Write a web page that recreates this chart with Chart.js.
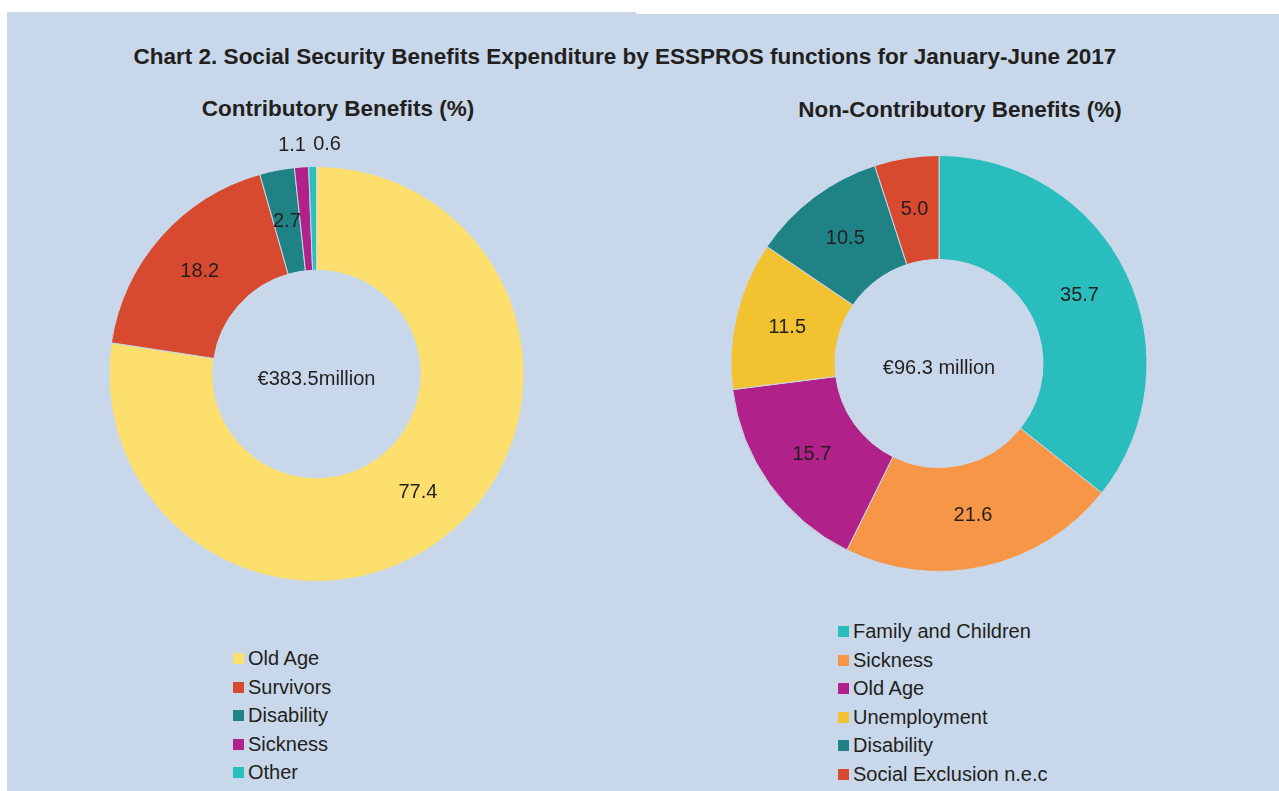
<!DOCTYPE html>
<html>
<head>
<meta charset="utf-8">
<script src="https://cdn.jsdelivr.net/npm/chart.js@4.4.0/dist/chart.umd.min.js"></script>
<style>
  html, body { margin: 0; padding: 0; background: #fff; width: 1279px; height: 791px; overflow: hidden; }
  body { font-family: "Liberation Sans", Arial, sans-serif; color: #231f20; position: relative; }
  #panel { position: absolute; left: 7px; top: 12px; right: 0; bottom: 0; background: #c8d8ea; }
  #notch { position: absolute; left: 636px; top: 12px; right: 0; height: 2px; background: #fff; }
  .title { position: absolute; font-weight: bold; white-space: nowrap; transform: translate(-50%, -50%); }
  canvas { position: absolute; }
  .legend { position: absolute; font-size: 20px; }
  .legend div { height: 28.5px; line-height: 28.5px; white-space: nowrap; }
  .legend span { display: inline-block; width: 11px; height: 11px; margin-right: 4px; vertical-align: 1px; }
</style>
</head>
<body>
<div id="panel"></div>
<div id="notch"></div>
<div class="title" style="left:625px; top:57px; font-size:22.5px;">Chart 2. Social Security Benefits Expenditure by ESSPROS functions for January-June 2017</div>
<div class="title" style="left:338px; top:109px; font-size:22.5px;">Contributory Benefits (%)</div>
<div class="title" style="left:960px; top:110px; font-size:22.5px;">Non-Contributory Benefits (%)</div>

<canvas id="contrib" style="left:60px; top:130px; width:512px; height:500px;"></canvas>
<canvas id="noncontrib" style="left:680px; top:120px; width:520px; height:480px;"></canvas>
<div class="legend" id="contrib-legend" style="left:233px; top:644px;"></div>
<div class="legend" id="noncontrib-legend" style="left:838px; top:617px;"></div>

<script>
// Contributory benefits (%)
const contribLabels = ['Old Age', 'Survivors', 'Disability', 'Sickness', 'Other'];
const contribValues = [77.4, 18.2, 2.7, 1.1, 0.6];
const contribColors = ['#fddf6d', '#d84a2f', '#1f8284', '#b0218a', '#2abfbf'];
const contribTotal = '€383.5million';

// Non-contributory benefits (%)
const nonContribLabels = ['Family and Children', 'Sickness', 'Old Age', 'Unemployment', 'Disability', 'Social Exclusion n.e.c'];
const nonContribValues = [35.7, 21.6, 15.7, 11.5, 10.5, 5.0];
const nonContribColors = ['#29bdbd', '#f79646', '#b0218a', '#f2c230', '#1f8284', '#d84a2f'];
const nonContribTotal = '€96.3 million';

const textColor = '#231f20';
const bg = '#c8d8ea';

const labelPlugin = {
    id: 'sliceLabels',
    afterDatasetsDraw(chart) {
        const ctx = chart.ctx;
        const meta = chart.getDatasetMeta(0);
        const values = chart.data.datasets[0].data;
        ctx.save();
        ctx.fillStyle = textColor;
        ctx.font = '20px "Liberation Sans", Arial, sans-serif';
        ctx.textBaseline = 'middle';
        meta.data.forEach((arc, i) => {
            const p = arc.getProps(['x', 'y', 'startAngle', 'endAngle', 'innerRadius', 'outerRadius'], true);
            const mid = (p.startAngle + p.endAngle) / 2;
            const txt = values[i].toFixed(1);
            if (values[i] < 2) {
                // tiny slices: label just outside the ring
                const r = p.outerRadius + 22;
                const x = p.x + Math.cos(mid) * r;
                const y = p.y + Math.sin(mid) * r;
                const nextOutside = i + 1 < values.length && values[i + 1] < 2;
                ctx.textAlign = nextOutside ? 'right' : 'left';
                ctx.fillText(txt, nextOutside ? x + 6 : x + 1, y);
            } else {
                const r = (p.innerRadius + p.outerRadius) / 2;
                ctx.textAlign = 'center';
                ctx.fillText(txt, p.x + Math.cos(mid) * r, p.y + Math.sin(mid) * r);
            }
        });
        const c = meta.data[0];
        ctx.textAlign = 'center';
        ctx.fillText(chart.options.plugins.centerText, c.x, c.y + 5);
        ctx.restore();
    }
};

function makeDonut(id, labels, values, colors, total, padding) {
    const el = document.getElementById(id);
    const chart = new Chart(el.getContext('2d'), {
        type: 'doughnut',
        data: {
            labels: labels,
            datasets: [{
                data: values,
                backgroundColor: colors,
                borderColor: bg,
                borderWidth: 1,
                hoverOffset: 0
            }]
        },
        options: {
            responsive: false,
            animation: false,
            cutout: '50%',
            layout: { padding: padding },
            plugins: {
                legend: { display: false },
                tooltip: { enabled: false },
                centerText: total
            }
        },
        plugins: [labelPlugin]
    });

    var legend = document.getElementById(id + '-legend');
    legend.innerHTML = labels.map((l, i) =>
        "<div><span style='background:" + colors[i] + "'></span>" + l + "</div>").join('');
    return chart;
}

document.getElementById('contrib').width = 512;
document.getElementById('contrib').height = 500;
document.getElementById('noncontrib').width = 520;
document.getElementById('noncontrib').height = 480;

makeDonut('contrib', contribLabels, contribValues, contribColors, contribTotal,
    {left: 48, right: 47, top: 36, bottom: 48});
makeDonut('noncontrib', nonContribLabels, nonContribValues, nonContribColors, nonContribTotal,
    {left: 50, right: 52, top: 35, bottom: 28});
</script>
</body>
</html>
